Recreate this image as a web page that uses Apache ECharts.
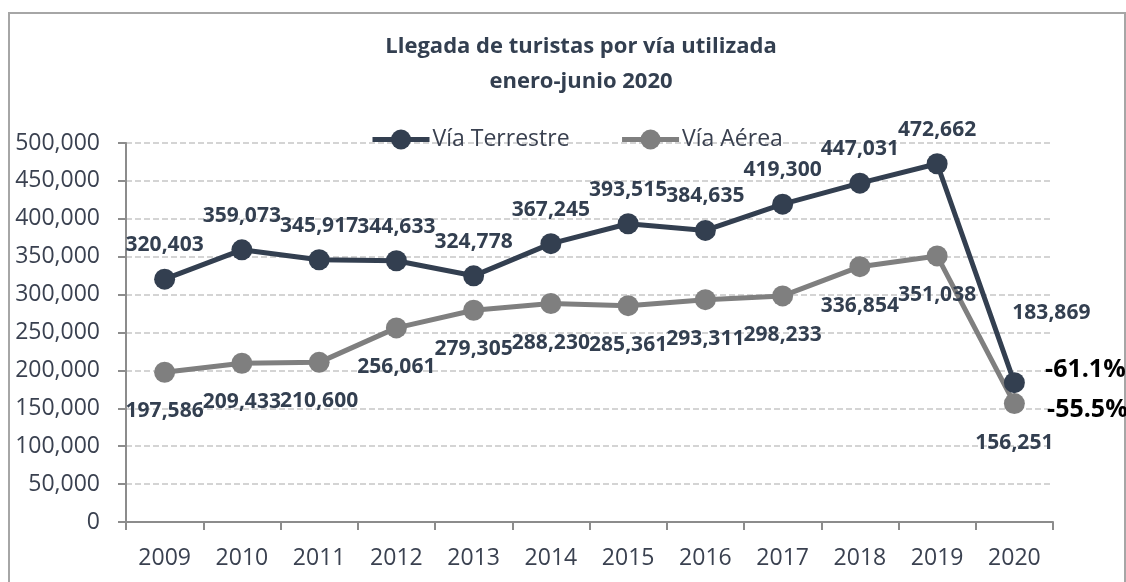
<!DOCTYPE html>
<html>
<head>
<meta charset="utf-8">
<script src="https://cdn.jsdelivr.net/npm/echarts@6/dist/echarts.min.js"></script>
<style>
  html, body { margin: 0; padding: 0; background: #fff; }
  #main { width: 1126px; height: 582px; }
</style>
</head>
<body>
<div id="main"></div>
<script>
// llegada de turistas, enero-junio
var years = ['2009', '2010', '2011', '2012', '2013', '2014', '2015', '2016', '2017', '2018', '2019', '2020'];
var terrestre = [320403, 359073, 345917, 344633, 324778, 367245, 393515, 384635, 419300, 447031, 472662, 183869];
var aerea = [197586, 209433, 210600, 256061, 279305, 288230, 285361, 293311, 298233, 336854, 351038, 156251];

var dark = '#333F50';
var gray = '#7F7F7F';
var txt = '#3a4150';

function fmt(v) {
  return Number(v).toLocaleString('en-US');
}
// cambio 2020 vs 2019
function pct(arr) {
  var n = arr.length;
  return ((arr[n - 1] / arr[n - 2] - 1) * 100).toFixed(1) + '%';
}

var labelFont = {
  fontFamily: 'Open Sans',
  fontWeight: 'bold',
  fontSize: 21,
  color: dark
};

var chart = echarts.init(document.getElementById('main'));
chart.setOption({
  animation: false,
  title: {
    text: 'Llegada de turistas por vía utilizada\nenero-junio 2020',
    left: 576,
    top: 24,
    textAlign: 'center',
    textStyle: {
      fontFamily: 'Open Sans',
      fontWeight: 'bold',
      fontSize: 22,
      lineHeight: 35,
      color: dark
    }
  },
  legend: {
    left: 370,
    top: 128,
    padding: 0,
    itemWidth: 57,
    itemHeight: 25,
    itemGap: 50,
    selectedMode: false,
    lineStyle: { width: 5 },
    textStyle: {
      fontFamily: 'Open Sans',
      fontSize: 23,
      color: txt,
      padding: [0, 0, 0, -2]
    },
    data: ['Vía Terrestre', 'Vía Aérea']
  },
  graphic: [{
    type: 'rect',
    shape: { x: 9, y: 13, width: 1116, height: 620 },
    style: { fill: 'none', stroke: '#a6a6a6', lineWidth: 2 },
    silent: true
  }],
  grid: {
    left: 126,
    right: 73,
    top: 143,
    bottom: 60
  },
  xAxis: {
    type: 'category',
    data: years,
    boundaryGap: true,
    axisLine: { show: true, lineStyle: { color: '#8c8c8c', width: 2 } },
    axisTick: { show: true, length: 8, lineStyle: { color: '#8c8c8c', width: 2 } },
    axisLabel: {
      margin: 25,
      fontFamily: 'Open Sans',
      fontSize: 23,
      color: txt
    }
  },
  yAxis: {
    type: 'value',
    min: 0,
    max: 500000,
    interval: 50000,
    axisLine: { show: true, lineStyle: { color: '#8c8c8c', width: 2 } },
    axisTick: { show: true, length: 8, lineStyle: { color: '#8c8c8c', width: 2 } },
    splitLine: { lineStyle: { color: '#d4d4d4', width: 2, type: [6, 3] } },
    axisLabel: {
      margin: 26,
      fontFamily: 'Open Sans',
      fontSize: 23,
      color: txt,
      formatter: fmt
    }
  },
  series: [{
    name: 'Vía Terrestre',
    type: 'line',
    z: 3,
    symbol: 'circle',
    symbolSize: 21,
    lineStyle: { width: 5, color: dark },
    itemStyle: { color: dark },
    data: terrestre.map(function (v, i) {
      var item = { value: v };
      if (i === terrestre.length - 1) {
        item.label = { offset: [37, -70] };
      }
      return item;
    }),
    label: Object.assign({
      show: true,
      position: 'inside',
      offset: [0, -34],
      formatter: function (p) { return fmt(p.value); }
    }, labelFont),
    markPoint: {
      symbol: 'circle',
      symbolSize: 1,
      itemStyle: { color: 'rgba(0,0,0,0)' },
      label: {
        show: true,
        position: 'inside',
        offset: [71, -13],
        fontFamily: 'Open Sans',
        fontWeight: 'bold',
        fontSize: 25,
        color: '#000',
        formatter: pct(terrestre)
      },
      data: [{ coord: [years.length - 1, terrestre[terrestre.length - 1]] }]
    }
  }, {
    name: 'Vía Aérea',
    type: 'line',
    z: 2,
    symbol: 'circle',
    symbolSize: 21,
    lineStyle: { width: 5, color: gray },
    itemStyle: { color: gray },
    data: aerea,
    label: Object.assign({
      show: true,
      position: 'inside',
      offset: [0, 39],
      formatter: function (p) { return fmt(p.value); }
    }, labelFont),
    markPoint: {
      symbol: 'circle',
      symbolSize: 1,
      itemStyle: { color: 'rgba(0,0,0,0)' },
      label: {
        show: true,
        position: 'inside',
        offset: [73, 6],
        fontFamily: 'Open Sans',
        fontWeight: 'bold',
        fontSize: 25,
        color: '#000',
        formatter: pct(aerea)
      },
      data: [{ coord: [years.length - 1, aerea[aerea.length - 1]] }]
    }
  }]
});
</script>
</body>
</html>
